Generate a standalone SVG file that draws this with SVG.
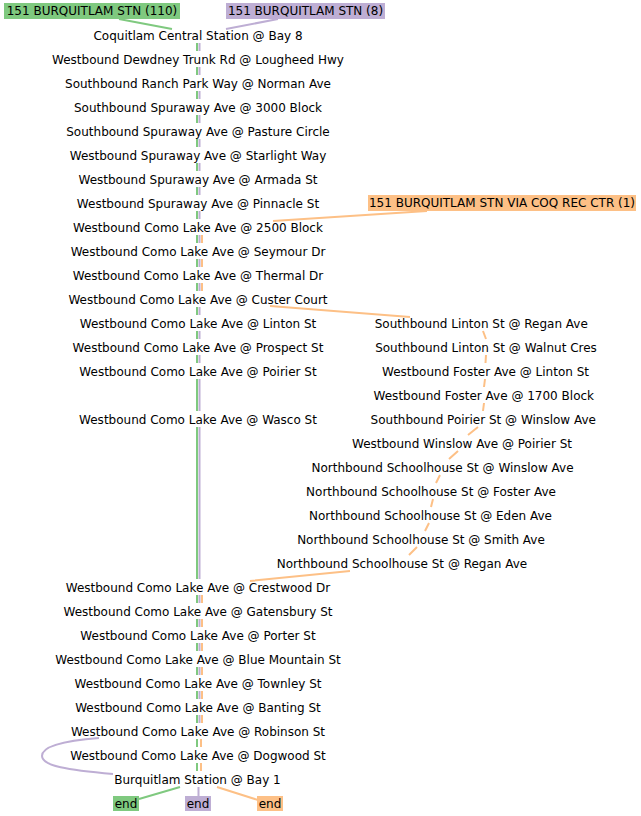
<svg xmlns="http://www.w3.org/2000/svg" width="641" height="816" viewBox="0 0 641 816">
<style>
text{font-family:"DejaVu Sans","Liberation Sans",sans-serif;font-size:12px;fill:#000;text-anchor:middle}
.g{stroke:#7fc97f;stroke-width:2;fill:none}
.p{stroke:#beaed4;stroke-width:2;fill:none}
.o{stroke:#fdc086;stroke-width:2;fill:none}
.bg{fill:#7fc97f}.bp{fill:#beaed4}.bo{fill:#fdc086}
</style>
<rect width="641" height="816" fill="#fff"/>
<g id="connectors">
<path class="g" d="M119 19L172 29M197 43V51M197 67V75M197 91V99M197 115V123M197 139V147M197 163V171M197 187V195M197 211V219M197 235V243M197 259V267M197 283V291M197 307V315M197 331V339M197 355V363M197 379V411M197 427V579M197 595V603M197 619V627M197 643V651M197 667V675M197 691V699M197 715V723M197 739V747M197 763V771M180 787L139 799"/>
<path class="p" d="M278 19L226 29M199.5 43V51M199.5 67V75M199.5 91V99M199.5 115V123M199.5 139V147M199.5 163V171M199.5 187V195M199.5 211V219M199.5 235V243M199.5 259V267M199.5 283V291M199.5 307V315M199.5 331V339M199.5 355V363M199.5 379V411M199.5 427V579M199.5 595V603M199.5 619V627M199.5 643V651M199.5 667V675M199.5 691V699M199.5 715V723M198.5 787V796"/>
<path class="p" d="M99 738C60 741 42 747 42 756C42 766 68 770 113 774"/>
<path class="o" d="M427 211L273 221M202 235V243M202 259V267M202 283V291M270 306L410 317M483 331L486 339M486 355L485.5 363M485 379L484 387M484 403L483 411M478 427L468 435M458 451L449 459M440 475L436 483M433 499L431 507M429 523L425 531M417 547L409 555M350 571L250 581M202 595V603M202 619V627M202 643V651M202 667V675M202 691V699M202 715V723M201 739V747M201 763V771M217 787L258 800"/>
</g>
<g id="lbl110"><rect class="bg" x="4" y="3" width="176" height="16"/><text x="92" y="15">151 BURQUITLAM STN (110)</text></g>
<g id="lbl8"><rect class="bp" x="226" y="3" width="159" height="16"/><text x="305.5" y="15">151 BURQUITLAM STN (8)</text></g>
<g id="lbl1"><rect class="bo" x="368" y="195" width="268" height="16"/><text x="502" y="207">151 BURQUITLAM STN VIA COQ REC CTR (1)</text></g>
<g id="n1"><text x="198" y="39.5">Coquitlam Central Station @ Bay 8</text></g>
<g id="n2"><text x="198" y="63.5">Westbound Dewdney Trunk Rd @ Lougheed Hwy</text></g>
<g id="n3"><text x="198" y="87.5">Southbound Ranch Park Way @ Norman Ave</text></g>
<g id="n4"><text x="198" y="111.5">Southbound Spuraway Ave @ 3000 Block</text></g>
<g id="n5"><text x="198" y="135.5">Southbound Spuraway Ave @ Pasture Circle</text></g>
<g id="n6"><text x="198" y="159.5">Westbound Spuraway Ave @ Starlight Way</text></g>
<g id="n7"><text x="198" y="183.5">Westbound Spuraway Ave @ Armada St</text></g>
<g id="n8"><text x="198" y="207.5">Westbound Spuraway Ave @ Pinnacle St</text></g>
<g id="n9"><text x="198" y="231.5">Westbound Como Lake Ave @ 2500 Block</text></g>
<g id="n10"><text x="198" y="255.5">Westbound Como Lake Ave @ Seymour Dr</text></g>
<g id="n11"><text x="198" y="279.5">Westbound Como Lake Ave @ Thermal Dr</text></g>
<g id="n12"><text x="198" y="303.5">Westbound Como Lake Ave @ Custer Court</text></g>
<g id="n13"><text x="198" y="327.5">Westbound Como Lake Ave @ Linton St</text></g>
<g id="n14"><text x="198" y="351.5">Westbound Como Lake Ave @ Prospect St</text></g>
<g id="n15"><text x="198" y="375.5">Westbound Como Lake Ave @ Poirier St</text></g>
<g id="n16"><text x="198" y="423.5">Westbound Como Lake Ave @ Wasco St</text></g>
<g id="r1"><text x="481.3" y="327.5">Southbound Linton St @ Regan Ave</text></g>
<g id="r2"><text x="486" y="351.5">Southbound Linton St @ Walnut Cres</text></g>
<g id="r3"><text x="485.5" y="375.5">Westbound Foster Ave @ Linton St</text></g>
<g id="r4"><text x="483.8" y="399.5">Westbound Foster Ave @ 1700 Block</text></g>
<g id="r5"><text x="483.3" y="423.5">Southbound Poirier St @ Winslow Ave</text></g>
<g id="r6"><text x="462" y="447.5">Westbound Winslow Ave @ Poirier St</text></g>
<g id="r7"><text x="442.5" y="471.5">Northbound Schoolhouse St @ Winslow Ave</text></g>
<g id="r8"><text x="431" y="495.5">Northbound Schoolhouse St @ Foster Ave</text></g>
<g id="r9"><text x="430.5" y="519.5">Northbound Schoolhouse St @ Eden Ave</text></g>
<g id="r10"><text x="421" y="543.5">Northbound Schoolhouse St @ Smith Ave</text></g>
<g id="r11"><text x="402" y="567.5">Northbound Schoolhouse St @ Regan Ave</text></g>
<g id="n17"><text x="198" y="591.5">Westbound Como Lake Ave @ Crestwood Dr</text></g>
<g id="n18"><text x="198" y="615.5">Westbound Como Lake Ave @ Gatensbury St</text></g>
<g id="n19"><text x="198" y="639.5">Westbound Como Lake Ave @ Porter St</text></g>
<g id="n20"><text x="198" y="663.5">Westbound Como Lake Ave @ Blue Mountain St</text></g>
<g id="n21"><text x="198" y="687.5">Westbound Como Lake Ave @ Townley St</text></g>
<g id="n22"><text x="198" y="711.5">Westbound Como Lake Ave @ Banting St</text></g>
<g id="n23"><text x="198" y="735.5">Westbound Como Lake Ave @ Robinson St</text></g>
<g id="n24"><text x="198" y="759.5">Westbound Como Lake Ave @ Dogwood St</text></g>
<g id="n25"><text x="197.5" y="783.5">Burquitlam Station @ Bay 1</text></g>
<g id="endg"><rect class="bg" x="113" y="796" width="26" height="15"/><text x="126" y="807.5">end</text></g>
<g id="endp"><rect class="bp" x="185" y="796" width="26" height="15"/><text x="198" y="807.5">end</text></g>
<g id="endo"><rect class="bo" x="257" y="796" width="26" height="15"/><text x="270" y="807.5">end</text></g>
</svg>
